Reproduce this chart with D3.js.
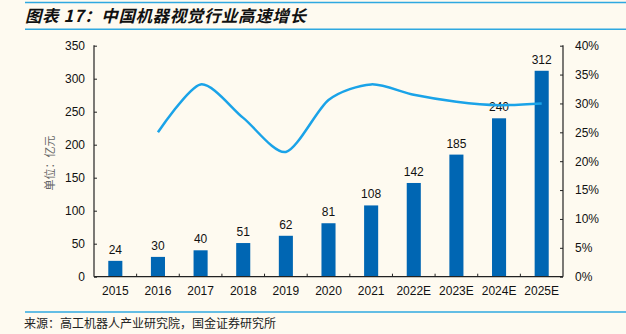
<!DOCTYPE html>
<html><head><meta charset="utf-8">
<script src="https://cdn.jsdelivr.net/npm/d3@7"></script>
<style>
html,body{margin:0;padding:0;background:#FEFAF0;}
svg{display:block;}
</style></head><body>
<svg id="c" width="626" height="334"></svg>
<script>
const categories = ["2015","2016","2017","2018","2019","2020","2021","2022E","2023E","2024E","2025E"];
const marketSize = [24,30,40,51,62,81,108,142,185,240,312];
const growthRate = [null,25.0,33.3,27.5,21.6,30.6,33.3,31.5,30.3,29.7,30.0];
const leftTicks = [0,50,100,150,200,250,300,350];
const rightTicks = [0,5,10,15,20,25,30,35,40];

const svg = d3.select("#c");
const W = 626, H = 334;
svg.append("rect").attr("width",W).attr("height",H).attr("fill","#FEFAF0");

const L = 94, R = 563, T = 45.7, B = 276.7;
const x = d3.scaleBand().domain(categories).range([L,R]).paddingInner(0.67).paddingOuter(0.335);
const xb = d3.scaleBand().domain(categories).range([L,R]);
const yL = d3.scaleLinear().domain([0,350]).range([B,T]);
const yR = d3.scaleLinear().domain([0,40]).range([B,T]);

// title
svg.append("line").attr("x1",25).attr("x2",626).attr("y1",2.5).attr("y2",2.5).attr("stroke","#2FA8E0").attr("stroke-width",1.5);
svg.append("line").attr("x1",25).attr("x2",626).attr("y1",29.3).attr("y2",29.3).attr("stroke","#2FA8E0").attr("stroke-width",1.5);
svg.append("text").attr("x",25).attr("y",21.5).attr("font-family","'Noto Sans CJK SC', sans-serif")
  .attr("font-size",16.5).attr("font-weight","bold").attr("font-style","italic").attr("fill","#111")
  .attr("letter-spacing",0.6)
  .text("图表 17：中国机器视觉行业高速增长");

// bars
svg.append("g").selectAll("rect").data(categories).join("rect")
  .attr("x",d=>x(d)).attr("width",x.bandwidth())
  .attr("y",(d,i)=>yL(marketSize[i])).attr("height",(d,i)=>B-yL(marketSize[i]))
  .attr("fill","#0066B3");

// bar labels
svg.append("g").selectAll("text").data(categories).join("text")
  .attr("x",d=>xb(d)+xb.bandwidth()/2).attr("y",(d,i)=>yL(marketSize[i])-7)
  .attr("text-anchor","middle").attr("font-family","'Liberation Sans', Arial, sans-serif")
  .attr("font-size",12).attr("fill","#111").text((d,i)=>marketSize[i]);

// line
const pts = categories.map((d,i)=>[xb(d)+xb.bandwidth()/2, growthRate[i]]).filter(p=>p[1]!==null);
const line = d3.line().x(p=>p[0]).y(p=>yR(p[1])).curve(d3.curveCardinal.tension(0.2));
svg.append("path").attr("d",line(pts)).attr("fill","none").attr("stroke","#1AA3E8").attr("stroke-width",2.5);

// axes
const font = "'Liberation Sans', Arial, sans-serif";
const gL = svg.append("g").attr("transform",`translate(${L},0)`)
  .call(d3.axisLeft(yL).tickValues(leftTicks).tickSize(-3).tickPadding(9).tickSizeOuter(0));
const gR = svg.append("g").attr("transform",`translate(${R},0)`)
  .call(d3.axisRight(yR).tickValues(rightTicks).tickSize(-3).tickPadding(12).tickFormat(d=>d+"%").tickSizeOuter(0));
const gX = svg.append("g").attr("transform",`translate(0,${B})`)
  .call(d3.axisBottom(xb).tickSize(0).tickPadding(10).tickSizeOuter(0));
// boundary ticks on x axis
svg.append("g").selectAll("line").data(categories.slice(1)).join("line")
  .attr("x1",d=>xb(d)).attr("x2",d=>xb(d)).attr("y1",B).attr("y2",B-3).attr("stroke","#222").attr("stroke-width",1);
[gL,gR,gX].forEach(g=>{
  g.selectAll("path").attr("stroke","#222").attr("stroke-width",1.2);
  g.selectAll("line").attr("stroke","#222");
  g.selectAll("text").attr("font-family",font).attr("font-size",12).attr("fill","#111");
});
gL.select(".domain").attr("d",`M0,${T-0.5}V${B}`);
gR.select(".domain").attr("d",`M0,${T-0.5}V${B}`);
gX.select(".domain").attr("d",`M${L},0H${R}`);

// y label
svg.append("text").attr("transform","translate(54,163) rotate(-90)").attr("text-anchor","middle")
  .attr("font-family","'Noto Sans CJK SC', sans-serif").attr("font-size",11).attr("fill","#666").text("单位：亿元");

// footer
svg.append("line").attr("x1",25).attr("x2",626).attr("y1",312).attr("y2",312).attr("stroke","#2FA8E0").attr("stroke-width",1.5);
svg.append("text").attr("x",24).attr("y",327.5).attr("font-family","'Noto Sans CJK SC', sans-serif")
  .attr("font-size",12).attr("fill","#222").text("来源：高工机器人产业研究院，国金证券研究所");
</script>
</body></html>
